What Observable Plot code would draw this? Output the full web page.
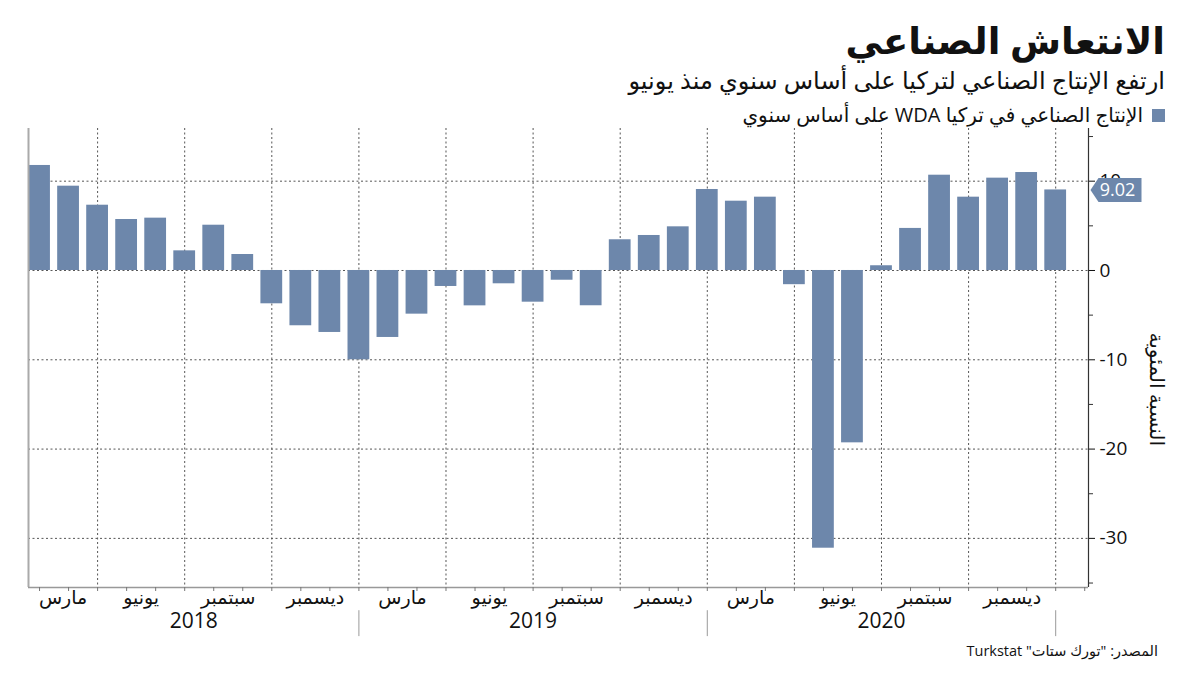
<!DOCTYPE html>
<html lang="ar">
<head>
<meta charset="utf-8">
<script src="https://cdn.jsdelivr.net/npm/d3@7"></script>
<script src="https://cdn.jsdelivr.net/npm/@observablehq/plot@0.6"></script>
<style>
  html, body { margin: 0; padding: 0; background: #fff; }
  body { width: 1200px; height: 675px; overflow: hidden; font-family: "Open Sans", "DejaVu Sans", sans-serif; color: #111; }
  #header { position: relative; height: 120px; }
  #footer { position: relative; height: 35px; }
  .t { position: absolute; direction: rtl; white-space: nowrap; line-height: 1; }
  #title { right: 35px; top: 21px; font-size: 37px; font-weight: bold; }
  #subtitle { right: 35px; top: 68px; font-size: 24px; }
  #legend { right: 35px; top: 105px; font-size: 20px; display: flex; align-items: center; gap: 9px; }
  #legend .sw { width: 13px; height: 13px; background: #6d87ab; display: inline-block; }
  #source { right: 42px; top: 4px; font-size: 14.5px; }
</style>
</head>
<body>
<div id="header">
  <div class="t" id="title">الانتعاش الصناعي</div>
  <div class="t" id="subtitle">ارتفع الإنتاج الصناعي لتركيا على أساس سنوي منذ يونيو</div>
  <div class="t" id="legend"><span class="sw"></span><span>الإنتاج الصناعي في تركيا WDA على أساس سنوي</span></div>
</div>
<div id="chart"></div>
<div id="footer">
  <div class="t" id="source">المصدر: "تورك ستات" Turkstat</div>
</div>
<script>
// Monthly YoY change (%), Jan..Dec of each year
const years = [2018, 2019, 2020];
const values2018 = [11.76, 9.44, 7.31, 5.71, 5.86, 2.2, 5.07, 1.79, -3.73, -6.19, -6.94, -10.0];
const values2019 = [-7.5, -4.89, -1.79, -3.96, -1.49, -3.55, -1.09, -3.95, 3.44, 3.92, 4.89, 9.07];
const values2020 = [7.76, 8.21, -1.59, -31.1, -19.3, 0.53, 4.71, 10.67, 8.21, 10.34, 10.97, 9.02];
const quarterLabels = ["مارس", "يونيو", "سبتمبر", "ديسمبر"];
const yMajor = [10, 0, -10, -20, -30];
const yMinor = [15, 5, -5, -15, -25, -35];
const yTitle = "النسبة المئوية";
const barColor = "#6d87ab";

const allValues = [...values2018, ...values2019, ...values2020];
const data = allValues.map((v, i) => ({i, v}));
const xMin = -0.38, xMax = 36.13;
const yMin = -35.5, yMax = 15.9;

// quarter label positions: centred between quarter-end gridlines
const monthLabelData = [];
years.forEach((yr, k) => {
  quarterLabels.forEach((lab, q) => {
    const start = Math.max(12 * k + 3 * q - 1, xMin);
    const end = 12 * k + 3 * q + 2;
    monthLabelData.push({x: (start + end) / 2, label: lab});
  });
});
const yearData = years.map((yr, k) => ({x: (Math.max(12 * k - 1, xMin) + 12 * k + 11) / 2, label: String(yr)}));
const gridIdx = d3.range(2, 36, 3);
const sepIdx = years.map((yr, k) => 12 * k + 11);
const last = data[data.length - 1];

const tagSymbol = {
  draw(ctx) {
    ctx.moveTo(2, 0);
    ctx.lineTo(10, -12);
    ctx.lineTo(53, -12);
    ctx.lineTo(53, 12);
    ctx.lineTo(10, 12);
    ctx.closePath();
  }
};

const dash = "2,2.5";
const chart = Plot.plot({
  width: 1200,
  height: 520,
  marginTop: 8,
  marginLeft: 28,
  marginRight: 112,
  marginBottom: 53,
  x: {type: "linear", domain: [xMin, xMax], axis: null},
  y: {domain: [yMin, yMax], axis: null},
  style: {fontFamily: "'Open Sans', 'DejaVu Sans', sans-serif", background: "#fff", color: "#111"},
  marks: [
    Plot.ruleY(yMajor, {stroke: "#555", strokeDasharray: dash, strokeWidth: 1}),
    Plot.ruleX(gridIdx, {stroke: "#555", strokeDasharray: dash, strokeWidth: 1}),
    Plot.rectY(data, {x1: d => d.i - 0.375, x2: d => d.i + 0.375, y1: 0, y2: "v", fill: barColor}),
    Plot.ruleX([xMin], {stroke: "#aaa", strokeWidth: 2}),
    Plot.ruleY([yMin], {stroke: "#999", strokeWidth: 1.5}),
    Plot.ruleX([xMax], {stroke: "#333", strokeWidth: 1.2}),
    Plot.axisY(yMinor, {anchor: "right", tickSize: 4, tickFormat: () => "", label: null, stroke: "#333"}),
    Plot.axisY(yMajor, {anchor: "right", tickSize: 6, tickPadding: 5, fontSize: 19, tickFormat: d => String(d), label: null, stroke: "#111", fill: "#111"}),
    Plot.axisX(d3.range(0, 37), {anchor: "bottom", tickSize: 4, tickFormat: () => "", label: null, stroke: "#777"}),
    Plot.text(monthLabelData, {x: "x", text: "label", frameAnchor: "bottom", dy: 16, fontSize: 19, fill: "#111"}),
    Plot.text(yearData, {x: "x", text: "label", frameAnchor: "bottom", dy: 40, fontSize: 21, fill: "#111"}),
    Plot.ruleX(sepIdx, {y1: -38.1, y2: -41, stroke: "#999", strokeWidth: 1}),
    Plot.dot([last], {x: () => xMax, y: "v", symbol: tagSymbol, fill: barColor, stroke: "none"}),
    Plot.text([last], {x: () => xMax, y: "v", text: d => d.v.toFixed(2), dx: 29, fill: "#fff", fontSize: 18}),
    Plot.text([yTitle], {x: () => xMax, y: () => -13.3, dx: 68, rotate: 90, fontSize: 20, fill: "#111"})
  ]
});
document.getElementById("chart").appendChild(chart);
</script>
</body>
</html>
